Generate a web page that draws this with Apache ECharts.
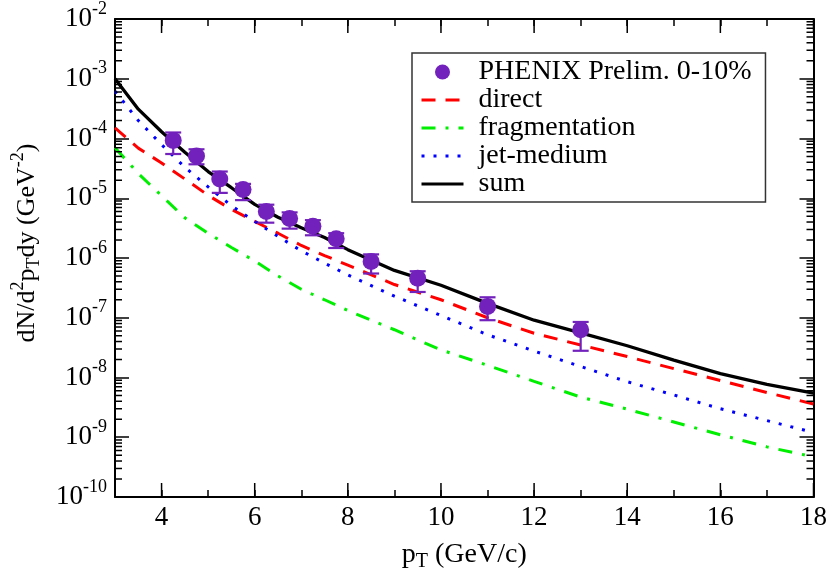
<!DOCTYPE html>
<html><head><meta charset="utf-8">
<script src="https://cdn.jsdelivr.net/npm/echarts@6/dist/echarts.min.js"></script>
<style>html,body{margin:0;padding:0;background:#fff}#c{width:830px;height:577px}</style>
</head><body><div id="c"></div>
<script>
const FONT = "'Liberation Serif', 'Times New Roman', serif";

// model curves (x in GeV/c)
const curveX = [3, 3.5, 4, 4.5, 5, 5.5, 6, 6.5, 7, 7.5, 8, 9, 10, 11, 12, 13, 14, 15, 16, 17, 18];
const direct = [1.5e-4, 6.9e-5, 3.9e-5, 2.1e-5, 1.12e-5, 6.5e-6, 4.1e-6, 2.6e-6, 1.62e-6, 1.1e-6, 7.6e-7, 3.6e-7, 2.0e-7, 1.0e-7, 5.5e-8, 3.5e-8, 2.24e-8, 1.41e-8, 8.9e-9, 5.6e-9, 3.6e-9];
const fragmentation = [7.0e-5, 2.6e-5, 1.1e-5, 4.7e-6, 2.6e-6, 1.5e-6, 8.9e-7, 5.0e-7, 3.0e-7, 2.0e-7, 1.32e-7, 6.3e-8, 2.9e-8, 1.6e-8, 8.6e-9, 4.7e-9, 2.95e-9, 1.8e-9, 1.1e-9, 6.9e-10, 4.7e-10];
const jetMedium = [6.2e-4, 2.0e-4, 7.9e-5, 3.3e-5, 1.55e-5, 7.5e-6, 4.1e-6, 2.3e-6, 1.32e-6, 8.2e-7, 5.2e-7, 2.3e-7, 1.09e-7, 5.2e-8, 2.77e-8, 1.53e-8, 8.5e-9, 5.1e-9, 3.0e-9, 1.9e-9, 1.2e-9];
const sum = [1.0e-3, 3.1e-4, 1.3e-4, 5.9e-5, 2.8e-5, 1.5e-5, 7.9e-6, 4.8e-6, 3.2e-6, 2.2e-6, 1.38e-6, 6.2e-7, 3.5e-7, 1.74e-7, 9.1e-8, 5.6e-8, 3.4e-8, 1.95e-8, 1.16e-8, 7.7e-9, 5.5e-9];

// PHENIX preliminary data
const dataX = [4.25, 4.75, 5.25, 5.75, 6.25, 6.75, 7.25, 7.75, 8.5, 9.5, 11, 13];
const dataY = [9.3e-5, 5.1e-5, 2.1e-5, 1.4e-5, 6.0e-6, 4.6e-6, 3.4e-6, 2.1e-6, 8.7e-7, 4.6e-7, 1.55e-7, 6.3e-8];
const errLow = [5.5e-5, 3.7e-5, 1.23e-5, 9.3e-6, 3.9e-6, 3.1e-6, 2.4e-6, 1.47e-6, 5.5e-7, 2.7e-7, 9.1e-8, 2.8e-8];
const errHigh = [1.26e-4, 6.6e-5, 2.8e-5, 1.74e-5, 7.8e-6, 5.8e-6, 4.3e-6, 2.6e-6, 1.15e-6, 6.0e-7, 2.2e-7, 8.5e-8];

// axis ticks
const xMajorTicks = [4, 6, 8, 10, 12, 14, 16, 18];
const yDecades = [-10, -9, -8, -7, -6, -5, -4, -3, -2];
const yMinorMultipliers = [2, 3, 4, 5, 6, 7, 8, 9];

const X_MIN = 3, X_MAX = 18, Y_MIN = 1e-10, Y_MAX = 1e-2;
const PURPLE = '#7221bc';

const tickData = [];
xMajorTicks.forEach(x => tickData.push([x, Y_MIN, 0]));
yDecades.slice(0, -1).forEach(e => yMinorMultipliers.forEach(m => tickData.push([X_MIN, m * Math.pow(10, e), 1])));

function seg(x1, y1, x2, y2, w) {
  return { type: 'line', shape: { x1, y1, x2, y2 }, style: { stroke: '#000', lineWidth: w } };
}

const chart = echarts.init(document.getElementById('c'), null, { renderer: 'canvas' });

const baseX = {
  type: 'value', min: X_MIN, max: X_MAX, interval: 1,
  splitLine: { show: false },
  axisLine: { show: true, onZero: false, lineStyle: { color: '#000', width: 2 } },
  axisTick: { show: true, inside: true, length: 7, lineStyle: { color: '#000', width: 1.5 } }
};
const baseY = {
  type: 'log', logBase: 10, min: Y_MIN, max: Y_MAX, splitNumber: 8,
  splitLine: { show: false }, minorTick: { show: false },
  axisLine: { show: true, onZero: false, lineStyle: { color: '#000', width: 2 } },
  axisTick: { show: true, inside: true, length: 14, lineStyle: { color: '#000', width: 1.5 } }
};

const lineLegend = name => ({ name: name, itemStyle: { opacity: 0 } });

const option = {
  backgroundColor: '#fff',
  animation: false,
  grid: { left: 115, right: 14, top: 19, bottom: 69 },
  xAxis: [
    Object.assign({}, baseX, {
      position: 'bottom',
      axisLabel: {
        show: true, color: '#000', fontFamily: FONT, fontSize: 27, margin: 7,
        formatter: v => (xMajorTicks.indexOf(v) >= 0 ? String(v) : '')
      },
      name: 'p{sub|T} (GeV/c)', nameLocation: 'middle', nameGap: 41,
      nameTextStyle: {
        color: '#000', fontFamily: FONT, fontSize: 28,
        rich: { sub: { fontFamily: FONT, fontSize: 20, color: '#000', padding: [14, 0, 0, 0] } }
      }
    }),
    Object.assign({}, baseX, { position: 'top', axisLabel: { show: false } })
  ],
  yAxis: [
    Object.assign({}, baseY, {
      position: 'left',
      axisLabel: {
        show: true, color: '#000', fontFamily: FONT, fontSize: 27, margin: 8,
        formatter: v => '10{sup|' + Math.round(Math.log10(v)) + '}',
        rich: { sup: { fontFamily: FONT, fontSize: 18, color: '#000', padding: [0, 0, 20, 0] } }
      }
    }),
    Object.assign({}, baseY, { position: 'right', axisLabel: { show: false } })
  ],
  graphic: [{
    type: 'text', x: 27, y: 243, rotation: Math.PI / 2,
    style: {
      text: 'dN/d{sup|2}p{sub|T}dy (GeV{sup|-2})',
      fontFamily: FONT, fontSize: 26, fill: '#000', align: 'center', verticalAlign: 'middle',
      rich: {
        sup: { fontFamily: FONT, fontSize: 18, fill: '#000', padding: [0, 0, 18, 0] },
        sub: { fontFamily: FONT, fontSize: 18, fill: '#000', padding: [14, 0, 0, 0] }
      }
    }
  }],
  legend: {
    orient: 'vertical', left: 412, top: 53,
    padding: [5, 14, 4, 8], itemGap: 0, itemWidth: 42, itemHeight: 15,
    borderColor: '#333', borderWidth: 1.5, backgroundColor: '#fff',
    lineStyle: { width: 3 },
    textStyle: { fontFamily: FONT, fontSize: 28, color: '#000', lineHeight: 28, padding: [0, 0, 0, 10] },
    data: [
      { name: 'PHENIX Prelim. 0-10%', icon: 'circle' },
      lineLegend('direct'), lineLegend('fragmentation'), lineLegend('jet-medium'), lineLegend('sum')
    ]
  },
  series: [
    {
      name: 'ticks', type: 'custom', silent: true, z: 5,
      data: tickData, encode: { x: 0, y: 1 },
      renderItem: function (params, api) {
        const kind = api.value(2);
        if (kind === 0) {
          const x = api.value(0);
          const b = api.coord([x, Y_MIN]);
          const t = api.coord([x, Y_MAX]);
          return { type: 'group', children: [seg(b[0], b[1], b[0], b[1] - 14, 1.5), seg(t[0], t[1], t[0], t[1] + 14, 1.5)] };
        }
        const v = api.value(1);
        const l = api.coord([X_MIN, v]);
        const r = api.coord([X_MAX, v]);
        return { type: 'group', children: [seg(l[0], l[1], l[0] + 7, l[1], 1.5), seg(r[0], r[1], r[0] - 7, r[1], 1.5)] };
      }
    },
    {
      name: 'direct', type: 'line', symbol: 'none', showSymbol: false, z: 3,
      data: curveX.map((x, i) => [x, direct[i]]),
      itemStyle: { color: '#ff0000' },
      lineStyle: { color: '#ff0000', width: 3, type: [14, 10] }
    },
    {
      name: 'fragmentation', type: 'line', symbol: 'none', showSymbol: false, z: 3,
      data: curveX.map((x, i) => [x, fragmentation[i]]),
      itemStyle: { color: '#00ee00' },
      lineStyle: { color: '#00ee00', width: 3, type: [14, 10, 3, 10] }
    },
    {
      name: 'jet-medium', type: 'line', symbol: 'none', showSymbol: false, z: 3,
      data: curveX.map((x, i) => [x, jetMedium[i]]),
      itemStyle: { color: '#0000ff' },
      lineStyle: { color: '#0000ff', width: 3, type: [3, 9] }
    },
    {
      name: 'sum', type: 'line', symbol: 'none', showSymbol: false, z: 3,
      data: curveX.map((x, i) => [x, sum[i]]),
      itemStyle: { color: '#000' },
      lineStyle: { color: '#000', width: 3.3, type: 'solid' }
    },
    {
      name: 'errors', type: 'custom', silent: true, z: 4,
      data: dataX.map((x, i) => [x, errLow[i], errHigh[i]]),
      encode: { x: 0, y: [1, 2] },
      renderItem: function (params, api) {
        const x = api.value(0);
        const lo = api.coord([x, api.value(1)]);
        const hi = api.coord([x, api.value(2)]);
        const hw = 8;
        const st = { stroke: PURPLE, lineWidth: 2.2 };
        return {
          type: 'group', children: [
            { type: 'line', shape: { x1: lo[0], y1: lo[1], x2: hi[0], y2: hi[1] }, style: st },
            { type: 'line', shape: { x1: lo[0] - hw, y1: lo[1], x2: lo[0] + hw, y2: lo[1] }, style: st },
            { type: 'line', shape: { x1: hi[0] - hw, y1: hi[1], x2: hi[0] + hw, y2: hi[1] }, style: st }
          ]
        };
      }
    },
    {
      name: 'PHENIX Prelim. 0-10%', type: 'scatter', symbol: 'circle', symbolSize: 17, z: 6,
      data: dataX.map((x, i) => [x, dataY[i]]),
      itemStyle: { color: PURPLE, opacity: 1 }
    }
  ]
};
chart.setOption(option);
</script>
</body></html>
